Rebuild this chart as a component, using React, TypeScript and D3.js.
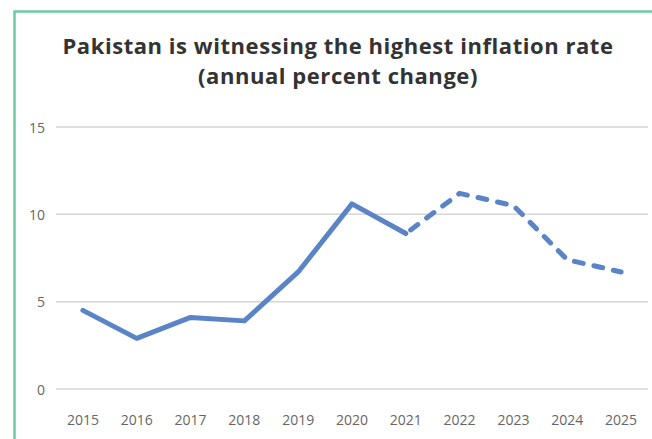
import React, { useEffect, useRef } from 'react';
import * as d3 from 'd3';

const years = ['2015', '2016', '2017', '2018', '2019', '2020', '2021', '2022', '2023', '2024', '2025'];
const actual = [4.5, 2.9, 4.1, 3.9, 6.7, 10.6, 8.9];
const forecast = [8.9, 11.2, 10.5, 7.4, 6.7];
const yTicks = [0, 5, 10, 15];

const W = 652;
const H = 439;

export default function App() {
  const ref = useRef<SVGSVGElement>(null);

  useEffect(() => {
    const svg = d3.select(ref.current);
    svg.selectAll('*').remove();

    const x = d3.scaleBand().domain(years).range([56, 648]);
    const y = d3.scaleLinear().domain([0, 15]).range([389, 127]);
    const cx = (d: string) => (x(d) as number) + x.bandwidth() / 2;

    // card border
    svg
      .append('path')
      .attr('d', `M14.5,${H + 5} V11.5 H${W + 5}`)
      .attr('fill', 'none')
      .attr('stroke', '#6dcaa6')
      .attr('stroke-width', 2.5);

    const titleLines = ['Pakistan is witnessing the highest inflation rate', '(annual percent change)'];
    svg
      .append('g')
      .selectAll('text')
      .data(titleLines)
      .join('text')
      .attr('x', 338)
      .attr('y', (d, i) => 54 + i * 29.5)
      .attr('text-anchor', 'middle')
      .attr('font-family', '"Open Sans", sans-serif')
      .attr('font-weight', 700)
      .attr('font-size', 22)
      .attr('letter-spacing', 0.55)
      .attr('fill', '#333')
      .text((d) => d);

    svg
      .append('g')
      .selectAll('line')
      .data(yTicks)
      .join('line')
      .attr('x1', 56)
      .attr('x2', 648)
      .attr('y1', (d) => y(d))
      .attr('y2', (d) => y(d))
      .attr('stroke', '#d6d6d6')
      .attr('stroke-width', 1.5);

    svg
      .append('g')
      .selectAll('text')
      .data(yTicks)
      .join('text')
      .attr('x', 45)
      .attr('y', (d) => y(d))
      .attr('dy', '0.4em')
      .attr('text-anchor', 'end')
      .attr('font-family', '"Open Sans", sans-serif')
      .attr('font-size', 14)
      .attr('fill', '#666')
      .text((d) => d);

    svg
      .append('g')
      .selectAll('text')
      .data(years)
      .join('text')
      .attr('x', (d) => cx(d))
      .attr('y', 425)
      .attr('text-anchor', 'middle')
      .attr('font-family', '"Open Sans", sans-serif')
      .attr('font-size', 14)
      .attr('fill', '#666')
      .text((d) => d);

    const line = d3
      .line<[string, number]>()
      .x((d) => cx(d[0]))
      .y((d) => y(d[1]));

    svg
      .append('path')
      .datum(actual.map((v, i) => [years[i], v] as [string, number]))
      .attr('d', line)
      .attr('fill', 'none')
      .attr('stroke', '#5a84c5')
      .attr('stroke-width', 5)
      .attr('stroke-linejoin', 'round')
      .attr('stroke-linecap', 'round');

    svg
      .append('path')
      .datum(forecast.map((v, i) => [years[i + 6], v] as [string, number]))
      .attr('d', line)
      .attr('fill', 'none')
      .attr('stroke', '#5a84c5')
      .attr('stroke-width', 5)
      .attr('stroke-dasharray', '9 11')
      .attr('stroke-dashoffset', -6)
      .attr('stroke-linejoin', 'round')
      .attr('stroke-linecap', 'round');
  }, []);

  return (
    <svg
      ref={ref}
      width={W}
      height={H}
      style={{ position: 'absolute', left: 0, top: 0, background: '#fff' }}
    />
  );
}
